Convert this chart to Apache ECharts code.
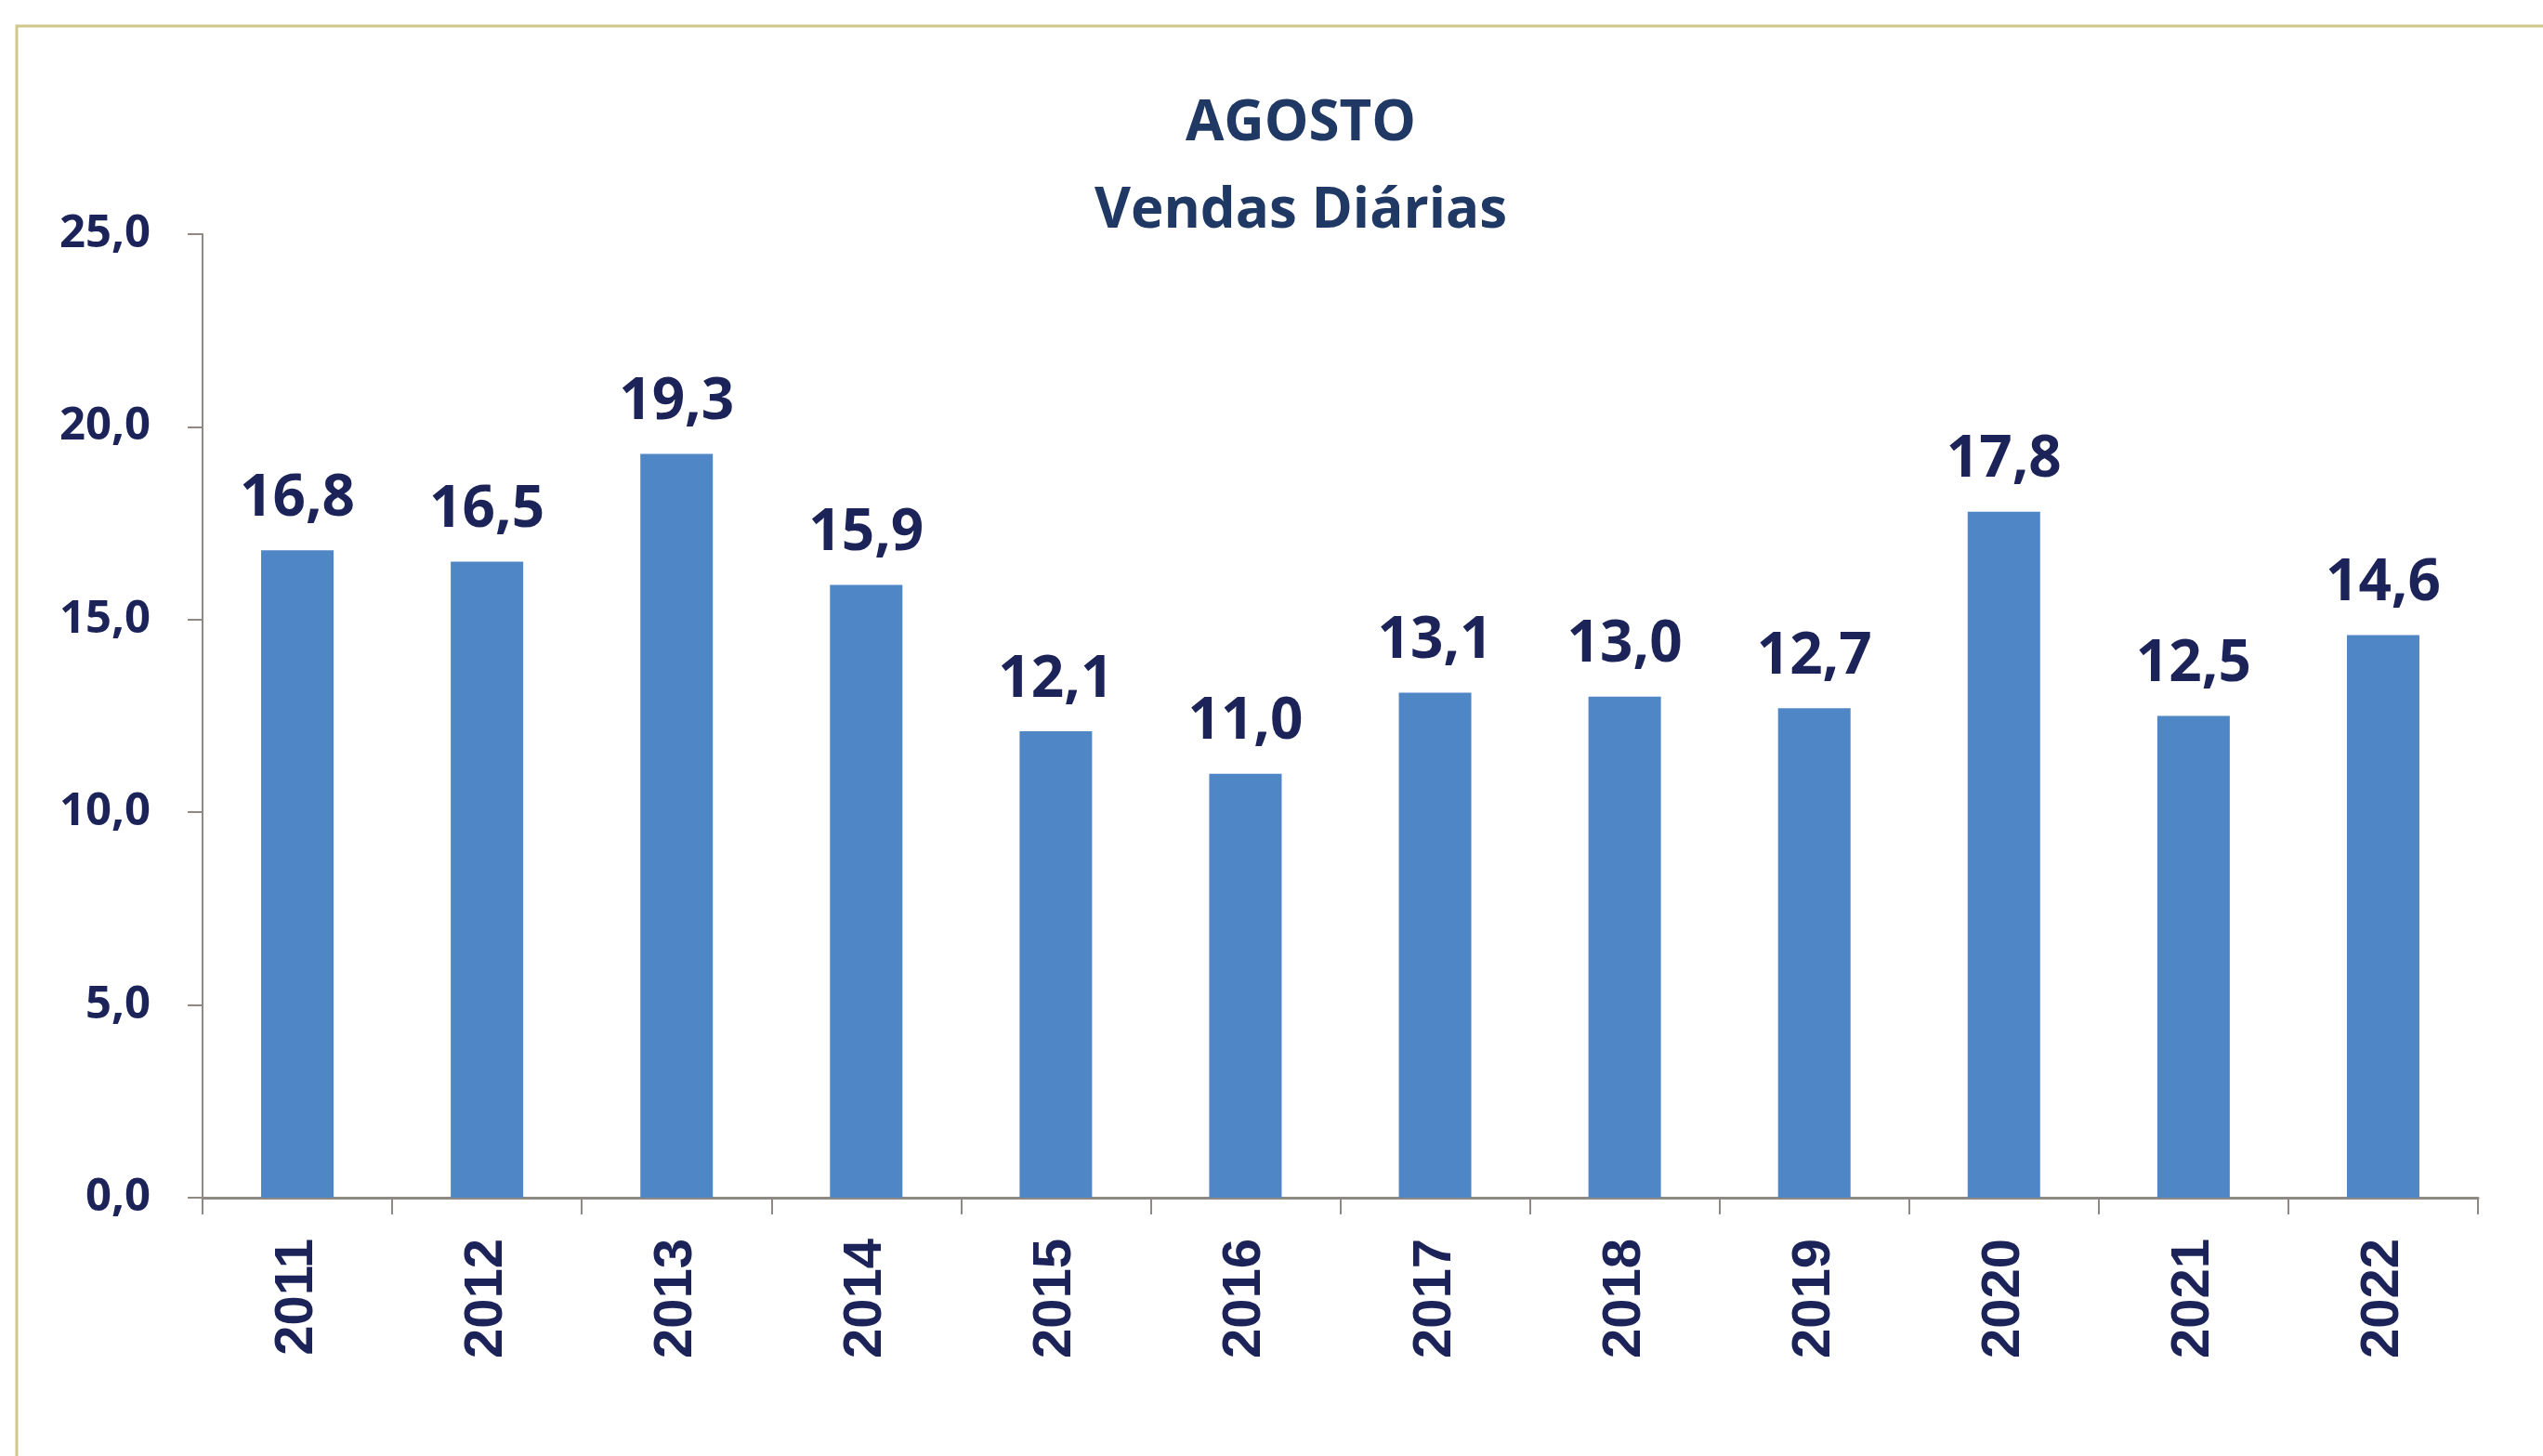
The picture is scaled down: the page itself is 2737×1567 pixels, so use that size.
<!DOCTYPE html>
<html>
<head>
<meta charset="utf-8">
<title>Agosto - Vendas Diárias</title>
<script src="https://cdn.jsdelivr.net/npm/echarts@6/dist/echarts.min.js"></script>
<style>
html, body {
  margin: 0;
  padding: 0;
  background: #fff;
}
#chart {
  width: 2737px;
  height: 1567px;
}
</style>
</head>
<body>
<div id="chart"></div>
<script>
// dados
const years = ['2011', '2012', '2013', '2014', '2015', '2016', '2017', '2018', '2019', '2020', '2021', '2022']
const dailySales = [16.8, 16.5, 19.3, 15.9, 12.1, 11.0, 13.1, 13.0, 12.7, 17.8, 12.5, 14.6]
const titleLines = ['AGOSTO', 'Vendas Diárias']

const navy = '#1b2358'
const axisGrey = '#8f8983'
const fmt = v => v.toFixed(1).replace('.', ',')

const chart = echarts.init(document.getElementById('chart'))
chart.setOption({
  backgroundColor: '#fff',
  animation: false,
  title: {
    text: titleLines.join('\n'),
    left: 1400,
    top: 87,
    textAlign: 'center',
    padding: 0,
    textStyle: {
      fontFamily: 'Open Sans',
      fontWeight: 'bold',
      fontSize: 60,
      lineHeight: 94,
      color: '#1f3864',
    },
  },
  graphic: [{
    type: 'rect',
    shape: { x: 18, y: 28, width: 2800, height: 1600 },
    style: { fill: 'none', stroke: '#cfc88a', lineWidth: 3 },
    silent: true,
  }],
  grid: {
    left: 218,
    right: 70,
    top: 252,
    bottom: 278,
    containLabel: false,
  },
  xAxis: {
    type: 'category',
    data: years,
    axisLine: {
      lineStyle: { color: axisGrey, width: 3 },
    },
    axisTick: {
      show: true,
      length: 18,
      lineStyle: { color: axisGrey, width: 2 },
    },
    axisLabel: {
      rotate: 90,
      margin: 44,
      color: navy,
      fontFamily: 'Liberation Sans',
      fontWeight: 'bold',
      fontSize: 58,
    },
  },
  yAxis: {
    type: 'value',
    min: 0,
    max: 25,
    interval: 5,
    splitLine: { show: false },
    axisLine: {
      show: true,
      lineStyle: { color: axisGrey, width: 2 },
    },
    axisTick: {
      show: true,
      length: 16,
      lineStyle: { color: axisGrey, width: 2 },
    },
    axisLabel: {
      margin: 56,
      color: navy,
      fontFamily: 'Open Sans',
      fontWeight: 'bold',
      fontSize: 49,
      formatter: fmt,
    },
  },
  series: [{
    type: 'bar',
    data: dailySales,
    barWidth: 78,
    itemStyle: { color: '#4f86c6' },
    label: {
      show: true,
      position: 'top',
      distance: 24,
      color: navy,
      fontFamily: 'Open Sans',
      fontWeight: 'bold',
      fontSize: 62,
      formatter: p => fmt(p.value),
    },
  }],
})
</script>
</body>
</html>
